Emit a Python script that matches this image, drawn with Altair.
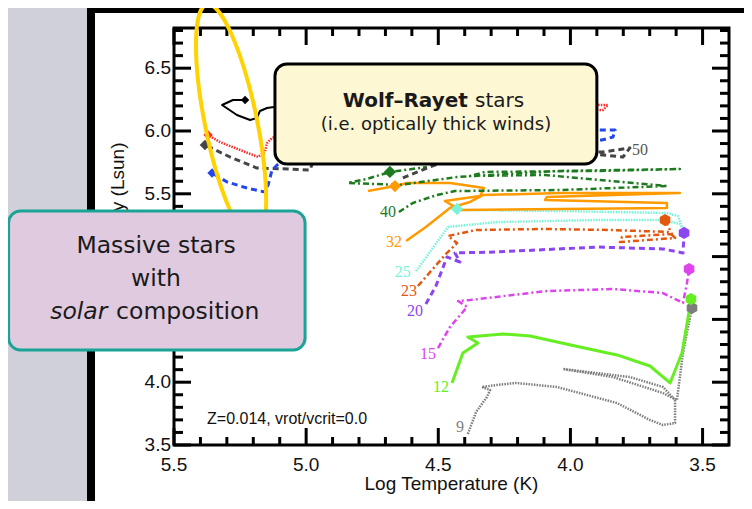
import altair as alt
import pandas as pd

# ---------------- evolutionary tracks (log Teff, log L/Lsun) ----------------
T_9 = [4.388, 4.357, 4.316, 4.304, 4.335, 4.278, 4.206, 4.051, 3.824, 3.699, 3.650, 3.604, 3.604,
       3.650, 3.775, 4.028, 3.839, 3.650, 3.597, 3.574, 3.555, 3.540]
L_9 = [3.588, 3.763, 3.882, 3.938, 3.962, 3.978, 3.994, 3.962, 3.834, 3.699, 3.659, 3.675, 3.858,
       3.962, 4.041, 4.105, 4.041, 3.914, 3.858, 4.232, 4.439, 4.591]

T_12 = [4.448, 4.407, 4.350, 4.388, 4.255, 4.153, 3.964, 3.824, 3.699, 3.623, 3.578, 3.548, 3.544]
L_12 = [3.994, 4.232, 4.312, 4.360, 4.384, 4.368, 4.280, 4.217, 4.129, 3.994, 4.232, 4.599, 4.662]

T_15 = [4.501, 4.456, 4.391, 4.425, 4.380, 4.089, 3.839, 3.650, 3.574, 3.559, 3.551]
L_15 = [4.272, 4.439, 4.599, 4.646, 4.654, 4.726, 4.742, 4.710, 4.631, 4.790, 4.901]

T_20 = [4.547, 4.509, 4.467, 4.418, 4.437, 4.278, 3.900, 3.650, 3.574, 3.570]
L_20 = [4.623, 4.766, 4.997, 4.957, 5.029, 5.037, 5.076, 5.061, 5.029, 5.188]

T_23 = [4.577, 4.471, 4.429, 4.463, 4.357, 4.104, 3.854, 3.627, 3.604, 3.813, 3.805, 3.616, 3.642]
L_23 = [4.766, 5.021, 5.108, 5.164, 5.212, 5.220, 5.212, 5.196, 5.148, 5.116, 5.156, 5.180, 5.291]

T_25 = [4.584, 4.463, 4.278, 3.900, 3.650, 3.586, 3.574, 3.593, 3.635, 4.040, 4.407, 4.429]
L_25 = [4.885, 5.236, 5.275, 5.291, 5.291, 5.260, 5.212, 5.323, 5.347, 5.363, 5.371, 5.379]

T_32 = [4.622, 4.547, 4.456, 4.380, 4.331, 4.040, 3.586, 4.089, 4.096, 3.635, 3.635, 4.418, 4.475,
        4.342, 4.327, 4.456, 4.618, 4.664, 4.766]
L_32 = [5.124, 5.236, 5.387, 5.435, 5.490, 5.506, 5.506, 5.475, 5.451, 5.427, 5.387, 5.371, 5.443,
        5.482, 5.546, 5.586, 5.586, 5.562, 5.522]

T_40 = [4.649, 4.596, 4.505, 4.437, 4.040, 3.631, 3.888, 4.096, 4.380, 4.323, 3.888, 3.586, 4.040,
        4.429, 4.645, 4.842, 4.770, 4.683, 4.543]
L_40 = [5.355, 5.427, 5.490, 5.522, 5.530, 5.562, 5.610, 5.650, 5.642, 5.674, 5.682, 5.697, 5.682,
        5.634, 5.570, 5.586, 5.618, 5.674, 5.713]

T_50 = [4.634, 4.494, 4.267, 3.877, 3.775, 3.801, 3.877, 4.456, 4.948, 4.985, 5.061, 5.186, 5.288, 5.383]
L_50 = [5.626, 5.745, 5.849, 5.833, 5.865, 5.793, 5.809, 5.928, 5.928, 5.689, 5.697, 5.705, 5.793, 5.889]

T_60 = [4.494, 3.888, 3.831, 3.839, 3.881, 4.645, 5.080, 5.110, 5.129, 5.144, 5.156, 5.224, 5.299, 5.356]
L_60 = [6.048, 6.008, 6.008, 5.952, 5.928, 5.889, 5.769, 5.729, 5.689, 5.570, 5.514, 5.546, 5.594, 5.666]

T_85 = [4.456, 3.888, 3.858, 3.877, 4.456, 5.080, 5.129, 5.148, 5.156, 5.182, 5.250, 5.326, 5.371]
L_85 = [6.287, 6.207, 6.207, 6.167, 6.167, 5.984, 5.944, 5.904, 5.833, 5.793, 5.849, 5.912, 5.968]

T_120 = [5.023, 5.122, 5.148, 5.175, 5.186, 5.212, 5.262, 5.318, 5.277, 5.231]
L_120 = [6.287, 6.191, 6.183, 6.159, 6.104, 6.088, 6.127, 6.207, 6.247, 6.247]

TRACK_NAMES = ["9", "12", "15", "20", "23", "25", "32", "40", "50", "60", "85", "120"]
TRACK_T = [T_9, T_12, T_15, T_20, T_23, T_25, T_32, T_40, T_50, T_60, T_85, T_120]
TRACK_L = [L_9, L_12, L_15, L_20, L_23, L_25, L_32, L_40, L_50, L_60, L_85, L_120]
TRACK_COLORS = ["#7d7d7d", "#66ee22", "#dd44ee", "#8c46f0", "#e2580e", "#78f2da",
                "#ff9a00", "#1e7a1e", "#454545", "#2446ee", "#ff2a2a", "#000000"]
TRACK_DASH = [[1.5, 1.2], None, [6, 3, 2, 3], [6, 4], [6, 3, 2, 3], [1.5, 1.2],
              None, [6, 3, 2, 3], [6, 4], [6, 4], [1.5, 1.2], None]
TRACK_WIDTH = [2.5, 3, 2.5, 3, 2.5, 2.5, 2.5, 2.5, 3, 3, 2.5, 2]

# end-of-track markers
HEX = "M0,-1L0.866,-0.5L0.866,0.5L0,1L-0.866,0.5L-0.866,-0.5Z"
MARK_T = [3.540, 3.544, 3.551, 3.570, 3.642, 4.429, 4.664, 4.683, 5.383, 5.356, 5.371, 5.231]
MARK_L = [4.591, 4.662, 4.901, 5.188, 5.291, 5.379, 5.562, 5.674, 5.889, 5.666, 5.968, 6.247]
MARK_SHAPE = [HEX, HEX, HEX, HEX, HEX, "diamond", "diamond", "diamond", "diamond", "diamond", "diamond", "diamond"]
MARK_SIZE = [150, 150, 150, 150, 150, 150, 150, 150, 110, 90, 90, 70]

# track mass labels
LAB_TEXT = ["9", "12", "15", "20", "23", "25", "32", "40", "50"]
LAB_T = [4.418, 4.490, 4.539, 4.588, 4.611, 4.634, 4.668, 4.690, 3.737]
LAB_L = [3.643, 3.962, 4.225, 4.567, 4.726, 4.877, 5.116, 5.355, 5.849]
LAB_COLORS = ["#7d7d7d", "#66ee22", "#dd44ee", "#8c46f0", "#e2580e", "#78f2da", "#ff9a00", "#1e7a1e", "#555555"]

# axes ticks
X_MAJOR = [5.5, 5.0, 4.5, 4.0, 3.5]
X_LABELS = ["5.5", "5.0", "4.5", "4.0", "3.5"]
X_MINOR = [5.4, 5.3, 5.2, 5.1, 4.9, 4.8, 4.7, 4.6, 4.4, 4.3, 4.2, 4.1, 3.9, 3.8, 3.7, 3.6]
Y_MAJOR = [3.5, 4.0, 4.5, 5.0, 5.5, 6.0, 6.5]
Y_LABELS = ["3.5", "4.0", "4.5", "5.0", "5.5", "6.0", "6.5"]
Y_MINOR = [3.6, 3.7, 3.8, 3.9, 4.1, 4.2, 4.3, 4.4, 4.6, 4.7, 4.8, 4.9, 5.1, 5.2, 5.3, 5.4,
           5.6, 5.7, 5.8, 5.9, 6.1, 6.2, 6.3, 6.4, 6.6, 6.7, 6.8]

X_DOMAIN = [3.4, 5.5]
Y_DOMAIN = [3.5, 6.82]
W, H = 555, 417

XS = alt.Scale(domain=X_DOMAIN, reverse=True, nice=False, zero=False)
YS = alt.Scale(domain=Y_DOMAIN, nice=False, zero=False)


def X(f):
    return alt.X(f, type="quantitative", scale=XS, axis=None)


def Y(f):
    return alt.Y(f, type="quantitative", scale=YS, axis=None)


def box(x0, x1, y0, y1):
    return pd.DataFrame({"x0": [x0], "x1": [x1], "y0": [y0], "y1": [y1]})


def rect_layer(df, **kw):
    return alt.Chart(df).mark_rect(**kw).encode(x=X("x0"), x2="x1", y=Y("y0"), y2="y1")


def text_layer(df, **kw):
    return alt.Chart(df).mark_text(**kw).encode(x=X("T"), y=Y("L"), text="s:N")


def one_text(t, l, s, **kw):
    return text_layer(pd.DataFrame({"T": [t], "L": [l], "s": [s]}), **kw)


layers = []

# slide panel (white with thick black frame)
layers.append(rect_layer(box(5.814, 3.309, 2.998, 6.971), fill="white", stroke="black", strokeWidth=8))
# plot frame
layers.append(rect_layer(box(5.5, 3.4, 3.5, 6.82), fill="white", fillOpacity=0, stroke="black", strokeWidth=3))

# ticks (pointing inward)
xmaj = pd.DataFrame({"v": X_MAJOR})
xmin = pd.DataFrame({"v": X_MINOR})
ymaj = pd.DataFrame({"v": Y_MAJOR})
ymin = pd.DataFrame({"v": Y_MINOR})
for df, ln in [(xmaj, 17), (xmin, 8)]:
    layers.append(alt.Chart(df).mark_rule(color="black", strokeWidth=3).encode(
        x=X("v"), y=alt.value(H), y2=alt.value(H - ln)))
    layers.append(alt.Chart(df).mark_rule(color="black", strokeWidth=3).encode(
        x=X("v"), y=alt.value(0), y2=alt.value(ln)))
for df, ln in [(ymaj, 17), (ymin, 9)]:
    layers.append(alt.Chart(df).mark_rule(color="black", strokeWidth=3).encode(
        y=Y("v"), x=alt.value(0), x2=alt.value(ln)))
    layers.append(alt.Chart(df).mark_rule(color="black", strokeWidth=3).encode(
        y=Y("v"), x=alt.value(W), x2=alt.value(W - ln)))

# tick labels
xl = pd.DataFrame({"T": X_MAJOR, "L": [Y_DOMAIN[0]] * len(X_MAJOR), "s": X_LABELS})
layers.append(text_layer(xl, font="Liberation Sans", fontSize=19, color="#111", align="center",
                         baseline="alphabetic", dy=26))
yl = pd.DataFrame({"T": [X_DOMAIN[1]] * len(Y_MAJOR), "L": Y_MAJOR, "s": Y_LABELS})
layers.append(text_layer(yl, font="Liberation Sans", fontSize=19, color="#111", align="right",
                         baseline="middle", dx=-3))
# axis titles
layers.append(one_text(4.45, 3.14, "Log Temperature (K)", font="Liberation Sans", fontSize=19,
                       color="#111", align="center", baseline="alphabetic"))
layers.append(one_text(5.712, 5.164, "Log Luminosity (Lsun)", font="Liberation Sans", fontSize=19,
                       color="#111", align="center", baseline="middle", angle=270))

# tracks
for name, tt, ll, col, dash, wd in zip(TRACK_NAMES, TRACK_T, TRACK_L, TRACK_COLORS, TRACK_DASH, TRACK_WIDTH):
    df = pd.DataFrame({"T": tt, "L": ll, "i": list(range(len(tt)))})
    kw = dict(color=col, strokeWidth=wd, strokeJoin="round")
    if dash:
        kw["strokeDash"] = dash
    layers.append(alt.Chart(df).mark_line(**kw).encode(x=X("T"), y=Y("L"), order="i:Q"))

# markers
mk = pd.DataFrame({"T": MARK_T, "L": MARK_L, "shape": MARK_SHAPE, "c": TRACK_COLORS, "sz": MARK_SIZE})
layers.append(alt.Chart(mk).mark_point(filled=True, opacity=1).encode(
    x=X("T"), y=Y("L"),
    shape=alt.Shape("shape:N", scale=None),
    color=alt.Color("c:N", scale=None),
    size=alt.Size("sz:Q", scale=None)))

# mass labels
lab = pd.DataFrame({"T": LAB_T, "L": LAB_L, "s": LAB_TEXT, "c": LAB_COLORS})
layers.append(alt.Chart(lab).mark_text(font="Liberation Serif", fontSize=16, align="center",
                                       baseline="middle").encode(
    x=X("T"), y=Y("L"), text="s:N", color=alt.Color("c:N", scale=None)))

layers.append(one_text(5.375, 3.667, "Z=0.014, vrot/vcrit=0.0", font="Liberation Sans", fontSize=16,
                       color="#111", align="left", baseline="alphabetic"))

# yellow hand-drawn ellipse
ELLIPSE = "M0,-1A0.215,1,0,1,1,0,1A0.215,1,0,1,1,0,-1Z"
layers.append(alt.Chart(pd.DataFrame({"T": [5.284], "L": [6.064]})).mark_point(
    shape=ELLIPSE, size=58564, angle=348.5, filled=False, color="#ffd200", strokeWidth=4,
    opacity=1).encode(x=X("T"), y=Y("L")))

# Wolf-Rayet callout
layers.append(rect_layer(box(5.118, 3.900, 5.737, 6.533), fill="#fdf7d3", stroke="black",
                         strokeWidth=3, cornerRadius=12))
layers.append(one_text(4.388, 6.191, "Wolf–Rayet", font="DejaVu Sans", fontSize=20, fontWeight="bold",
                       color="#1a1a1a", align="right", baseline="alphabetic"))
layers.append(one_text(4.361, 6.191, "stars", font="DejaVu Sans", fontSize=20,
                       color="#1a1a1a", align="left", baseline="alphabetic"))
layers.append(one_text(4.509, 6.008, "(i.e. optically thick winds)", font="DejaVu Sans", fontSize=18,
                       color="#1a1a1a", align="center", baseline="alphabetic"))

# massive stars callout
layers.append(rect_layer(box(6.126, 5.004, 4.256, 5.363), fill="#dfcadf", stroke="#1aa396",
                         strokeWidth=3, cornerRadius=12))
layers.append(one_text(5.568, 5.029, "Massive stars", font="DejaVu Sans", fontSize=23.5,
                       color="#1a1a1a", align="center", baseline="alphabetic"))
layers.append(one_text(5.568, 4.766, "with", font="DejaVu Sans", fontSize=23.5,
                       color="#1a1a1a", align="center", baseline="alphabetic"))
layers.append(one_text(5.752, 4.503, "solar", font="DejaVu Sans", fontSize=23.5, fontStyle="italic",
                       color="#1a1a1a", align="right", baseline="alphabetic"))
layers.append(one_text(5.719, 4.503, "composition", font="DejaVu Sans", fontSize=23.5,
                       color="#1a1a1a", align="left", baseline="alphabetic"))

# whole svg = 736 x 493 so that it fits inside the page margins
chart = alt.layer(*layers).properties(
    width=W, height=H,
    padding={"left": 166, "top": 20, "right": 15, "bottom": 56},
    autosize=alt.AutoSizeParams(type="none"),
    background="#cfd0d8",
).configure_view(strokeWidth=0)

chart.save("out.html", embed_options={"renderer": "svg", "actions": False})
